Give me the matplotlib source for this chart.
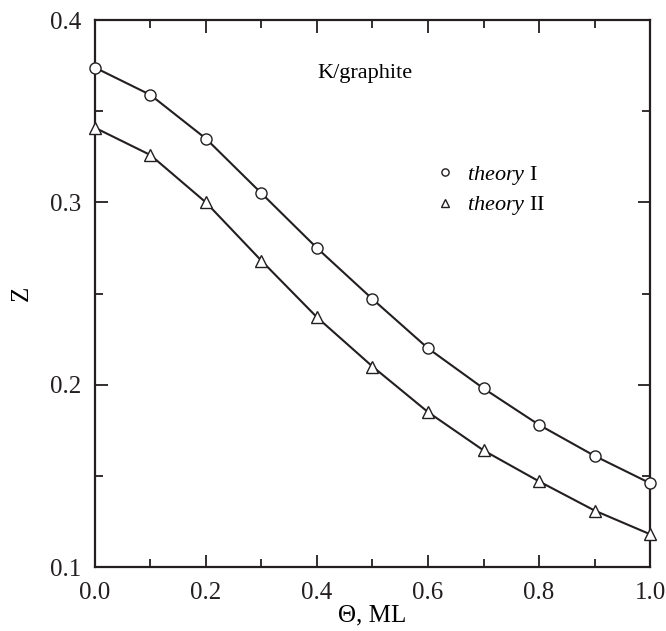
import numpy as np
import matplotlib.pyplot as plt
from matplotlib.lines import Line2D
from matplotlib.ticker import MultipleLocator

plt.rcParams['font.family'] = ['Liberation Serif', 'DejaVu Serif']
plt.rcParams['mathtext.fontset'] = 'custom'
plt.rcParams['mathtext.rm'] = 'Liberation Serif'
plt.rcParams['mathtext.it'] = 'Liberation Serif:italic'

theta = [0.0, 0.1, 0.2, 0.3, 0.4, 0.5, 0.6, 0.7, 0.8, 0.9, 1.0]
z_theory1 = [0.374, 0.359, 0.335, 0.305, 0.275, 0.247, 0.220, 0.198, 0.178, 0.161, 0.146]
z_theory2 = [0.341, 0.326, 0.300, 0.268, 0.237, 0.210, 0.185, 0.164, 0.147, 0.131, 0.118]

fig = plt.figure(figsize=(6.66, 6.31), dpi=100)
ax = fig.add_axes([0.1426, 0.1014, 0.8334, 0.8666])

lc = '#231f20'
ax.plot(theta, z_theory1, '-o', color=lc, lw=1.5, ms=8, mfc='white', mec=lc, mew=1.0, clip_on=False, zorder=3)
ax.plot(theta, z_theory2, '-^', color=lc, lw=1.5, ms=8.5, mfc='white', mec=lc, mew=1.0, clip_on=False, zorder=3)

ax.set_xlim(0, 1)
ax.set_ylim(0.1, 0.4)
ax.xaxis.set_major_locator(MultipleLocator(0.2))
ax.xaxis.set_minor_locator(MultipleLocator(0.1))
ax.yaxis.set_major_locator(MultipleLocator(0.1))
ax.yaxis.set_minor_locator(MultipleLocator(0.05))
ax.tick_params(which='both', direction='in', top=True, right=True, width=1.3, colors=lc, labelsize=18)
ax.tick_params(axis='x', which='both', pad=11)
ax.tick_params(axis='y', which='both', pad=10)
ax.tick_params(which='major', length=9)
ax.tick_params(which='minor', length=6)
for s in ax.spines.values():
    s.set_linewidth(1.6)
    s.set_color(lc)

ax.set_xlabel('Θ, ML', fontsize=18, labelpad=0)
ax.set_ylabel('Z', fontsize=18, labelpad=12)

ax.text(0.486, 0.902, 'K/graphite', transform=ax.transAxes, fontsize=16, ha='center', va='center')

handles = [Line2D([], [], ls='none', marker='o', ms=8, mfc='white', mec=lc, mew=1.0),
           Line2D([], [], ls='none', marker='^', ms=8, mfc='white', mec=lc, mew=1.0)]
ax.legend(handles, [r'$\it{theory}$ I', r'$\it{theory}$ II'], loc='upper left',
          bbox_to_anchor=(0.595, 0.757), frameon=False, fontsize=16, markerscale=0.65,
          handlelength=0.8, handletextpad=0.6, labelspacing=0.32, borderpad=0)

fig.savefig('out.png', dpi=100)
